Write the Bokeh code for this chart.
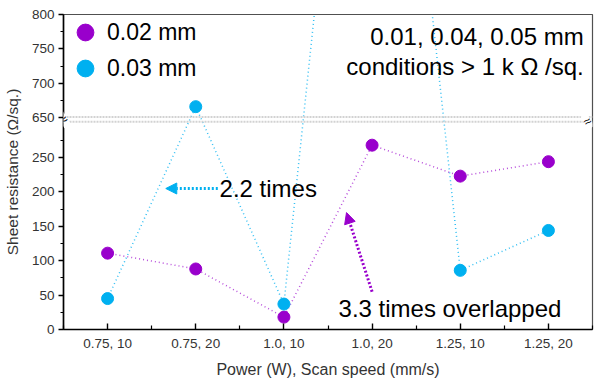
from bokeh.plotting import figure
from bokeh.models import (Range1d, FixedTicker, Legend, LegendItem, Label, Arrow,
                          NormalHead, Span, ColumnDataSource)
from bokeh.embed import file_html
from bokeh.resources import INLINE

# ---------------- data ----------------
categories = ["0.75, 10", "0.75, 20", "1.0, 10", "1.0, 20", "1.25, 10", "1.25, 20"]
r_002mm = [111, 88, 18, 268, 223, 244]      # 0.02 mm
r_003mm = [45, 666, 37, 1600, 86, 144]      # 0.03 mm (1.0,20 is > 800, off the chart)
lower_major = [0, 50, 100, 150, 200, 250]
lower_minor = [25, 75, 125, 175, 225, 275]
upper_major = [650, 700, 750, 800]
upper_minor = [675, 725, 775]

# broken axis: lower part 0..300 kept, upper part 650..800 shifted down
LOW_MAX = 300
SHIFT = 342
BREAK_AT = 305.5


def disp(v):
    return v if v <= LOW_MAX else v - SHIFT


FONT = "Liberation Sans"
PURPLE = "#9900CC"
CYAN = "#00B0F0"

xs = list(range(len(categories)))
src_a = ColumnDataSource(dict(x=xs, y=[disp(v) for v in r_002mm]))
src_b = ColumnDataSource(dict(x=xs, y=[disp(v) for v in r_003mm]))

p = figure(frame_width=529, frame_height=315, output_backend="svg", toolbar_location=None,
           x_range=Range1d(-0.5, 5.5), y_range=Range1d(0, disp(800)),
           min_border_left=55, min_border_right=4, min_border_top=14, min_border_bottom=52)
p.xgrid.visible = False
p.ygrid.visible = False
p.background_fill_color = "white"
p.outline_line_color = "#505050"
p.outline_line_width = 1.2

# lines (dotted)
p.line("x", "y", source=src_a, line_color=PURPLE, line_width=1.5, line_dash="1 3", line_alpha=0.7)
p.line("x", "y", source=src_b, line_color=CYAN, line_width=1.5, line_dash="1 3", line_alpha=0.8)
sa = p.scatter("x", "y", source=src_a, size=12, fill_color=PURPLE, line_color=PURPLE)
sb = p.scatter("x", "y", source=src_b, size=12, fill_color=CYAN, line_color=CYAN)

# break band
for loc in (BREAK_AT - 3.5, BREAK_AT + 3.5):
    p.add_layout(Span(location=loc, dimension="width", line_color="#d2d2d2",
                      line_width=2, line_dash="2 1"))

# axes
yt = [disp(v) for v in lower_major + upper_major]
ym = [disp(v) for v in lower_minor + upper_minor]
p.yaxis.ticker = FixedTicker(ticks=yt, minor_ticks=ym)
p.yaxis.major_label_overrides = {disp(v): str(v) for v in lower_major + upper_major}
p.xaxis.ticker = FixedTicker(ticks=xs, minor_ticks=[i + 0.5 for i in range(-1, 6)])
p.xaxis.major_label_overrides = {i: c for i, c in enumerate(categories)}

for ax in (p.xaxis[0], p.yaxis[0]):
    ax.axis_line_color = "black"
    ax.axis_line_width = 1.6
    ax.major_tick_line_color = "black"
    ax.minor_tick_line_color = "black"
    ax.major_tick_line_width = 1.4
    ax.minor_tick_line_width = 1.2
    ax.major_label_text_font = FONT
    ax.major_label_text_font_size = "13.5px"
    ax.major_label_text_color = "#333333"
    ax.axis_label_text_font = FONT
    ax.axis_label_text_font_style = "normal"
    ax.axis_label_text_color = "#333333"

p.yaxis.major_tick_out = 5
p.yaxis.major_tick_in = 0
p.yaxis.minor_tick_out = 3
p.yaxis.minor_tick_in = 0
p.yaxis.major_label_standoff = 4
p.yaxis.axis_label = "Sheet resistance (Ω/sq.)"
p.yaxis.axis_label_text_font_size = "15.5px"
p.yaxis.axis_label_standoff = 8

p.xaxis.major_tick_out = 0
p.xaxis.major_tick_in = 6
p.xaxis.minor_tick_out = 0
p.xaxis.minor_tick_in = 4
p.xaxis.major_label_standoff = 6
p.xaxis.axis_label = "Power (W), Scan speed (mm/s)"
p.xaxis.axis_label_text_font_size = "16px"
p.xaxis.axis_label_standoff = 7

# break marks on left and right axes
p.add_layout(Label(x=-0.5, y=BREAK_AT, text="≈", angle=0.55, text_font=FONT,
                   text_font_size="14px", text_color="black",
                   text_align="center", text_baseline="middle",
                   background_fill_color="white", background_fill_alpha=1.0))
p.add_layout(Label(x=5.5, y=BREAK_AT, text="≈", angle=0.55, text_font=FONT,
                   text_font_size="13px", text_color="black", x_offset=-2,
                   text_align="right", text_baseline="middle",
                   background_fill_color="white", background_fill_alpha=1.0))

# legend (one box per entry so the rows sit exactly where they should)
for rend, lab, ly in ((sa, "0.02 mm", 276), (sb, "0.03 mm", 240)):
    p.add_layout(Legend(items=[LegendItem(label=lab, renderers=[rend])],
                        location=(1, ly), glyph_width=42, glyph_height=42, spacing=0,
                        label_text_font=FONT, label_text_font_size="23px",
                        label_text_color="black", label_standoff=1, padding=0, margin=0,
                        background_fill_alpha=0, border_line_color=None))

# annotation texts
p.add_layout(Label(x=5.4, y=disp(800) - 32, text="0.01, 0.04, 0.05 mm", text_font=FONT,
                   text_font_size="24px", text_color="black", text_align="right",
                   text_baseline="middle"))
p.add_layout(Label(x=5.4, y=disp(800) - 75.5, text="conditions > 1 k Ω /sq.", text_font=FONT,
                   text_font_size="24px", text_color="black", text_align="right",
                   text_baseline="middle"))
p.add_layout(Label(x=1.27, y=205, text="2.2 times", text_font=FONT,
                   text_font_size="24px", text_color="black", text_align="left",
                   text_baseline="middle"))
p.add_layout(Label(x=2.62, y=30, text="3.3 times overlapped", text_font=FONT,
                   text_font_size="24px", text_color="black", text_align="left",
                   text_baseline="middle"))

# arrows
p.add_layout(Arrow(x_start=1.25, y_start=205, x_end=0.66, y_end=205,
                   line_color=CYAN, line_width=3, line_dash="2 2",
                   end=NormalHead(size=11, fill_color=CYAN, line_color=CYAN)))
p.add_layout(Arrow(x_start=3.0, y_start=55, x_end=2.71, y_end=170,
                   line_color=PURPLE, line_width=3, line_dash="2 2",
                   end=NormalHead(size=11, fill_color=PURPLE, line_color=PURPLE)))

open("out.html", "w").write(file_html(p, INLINE))
